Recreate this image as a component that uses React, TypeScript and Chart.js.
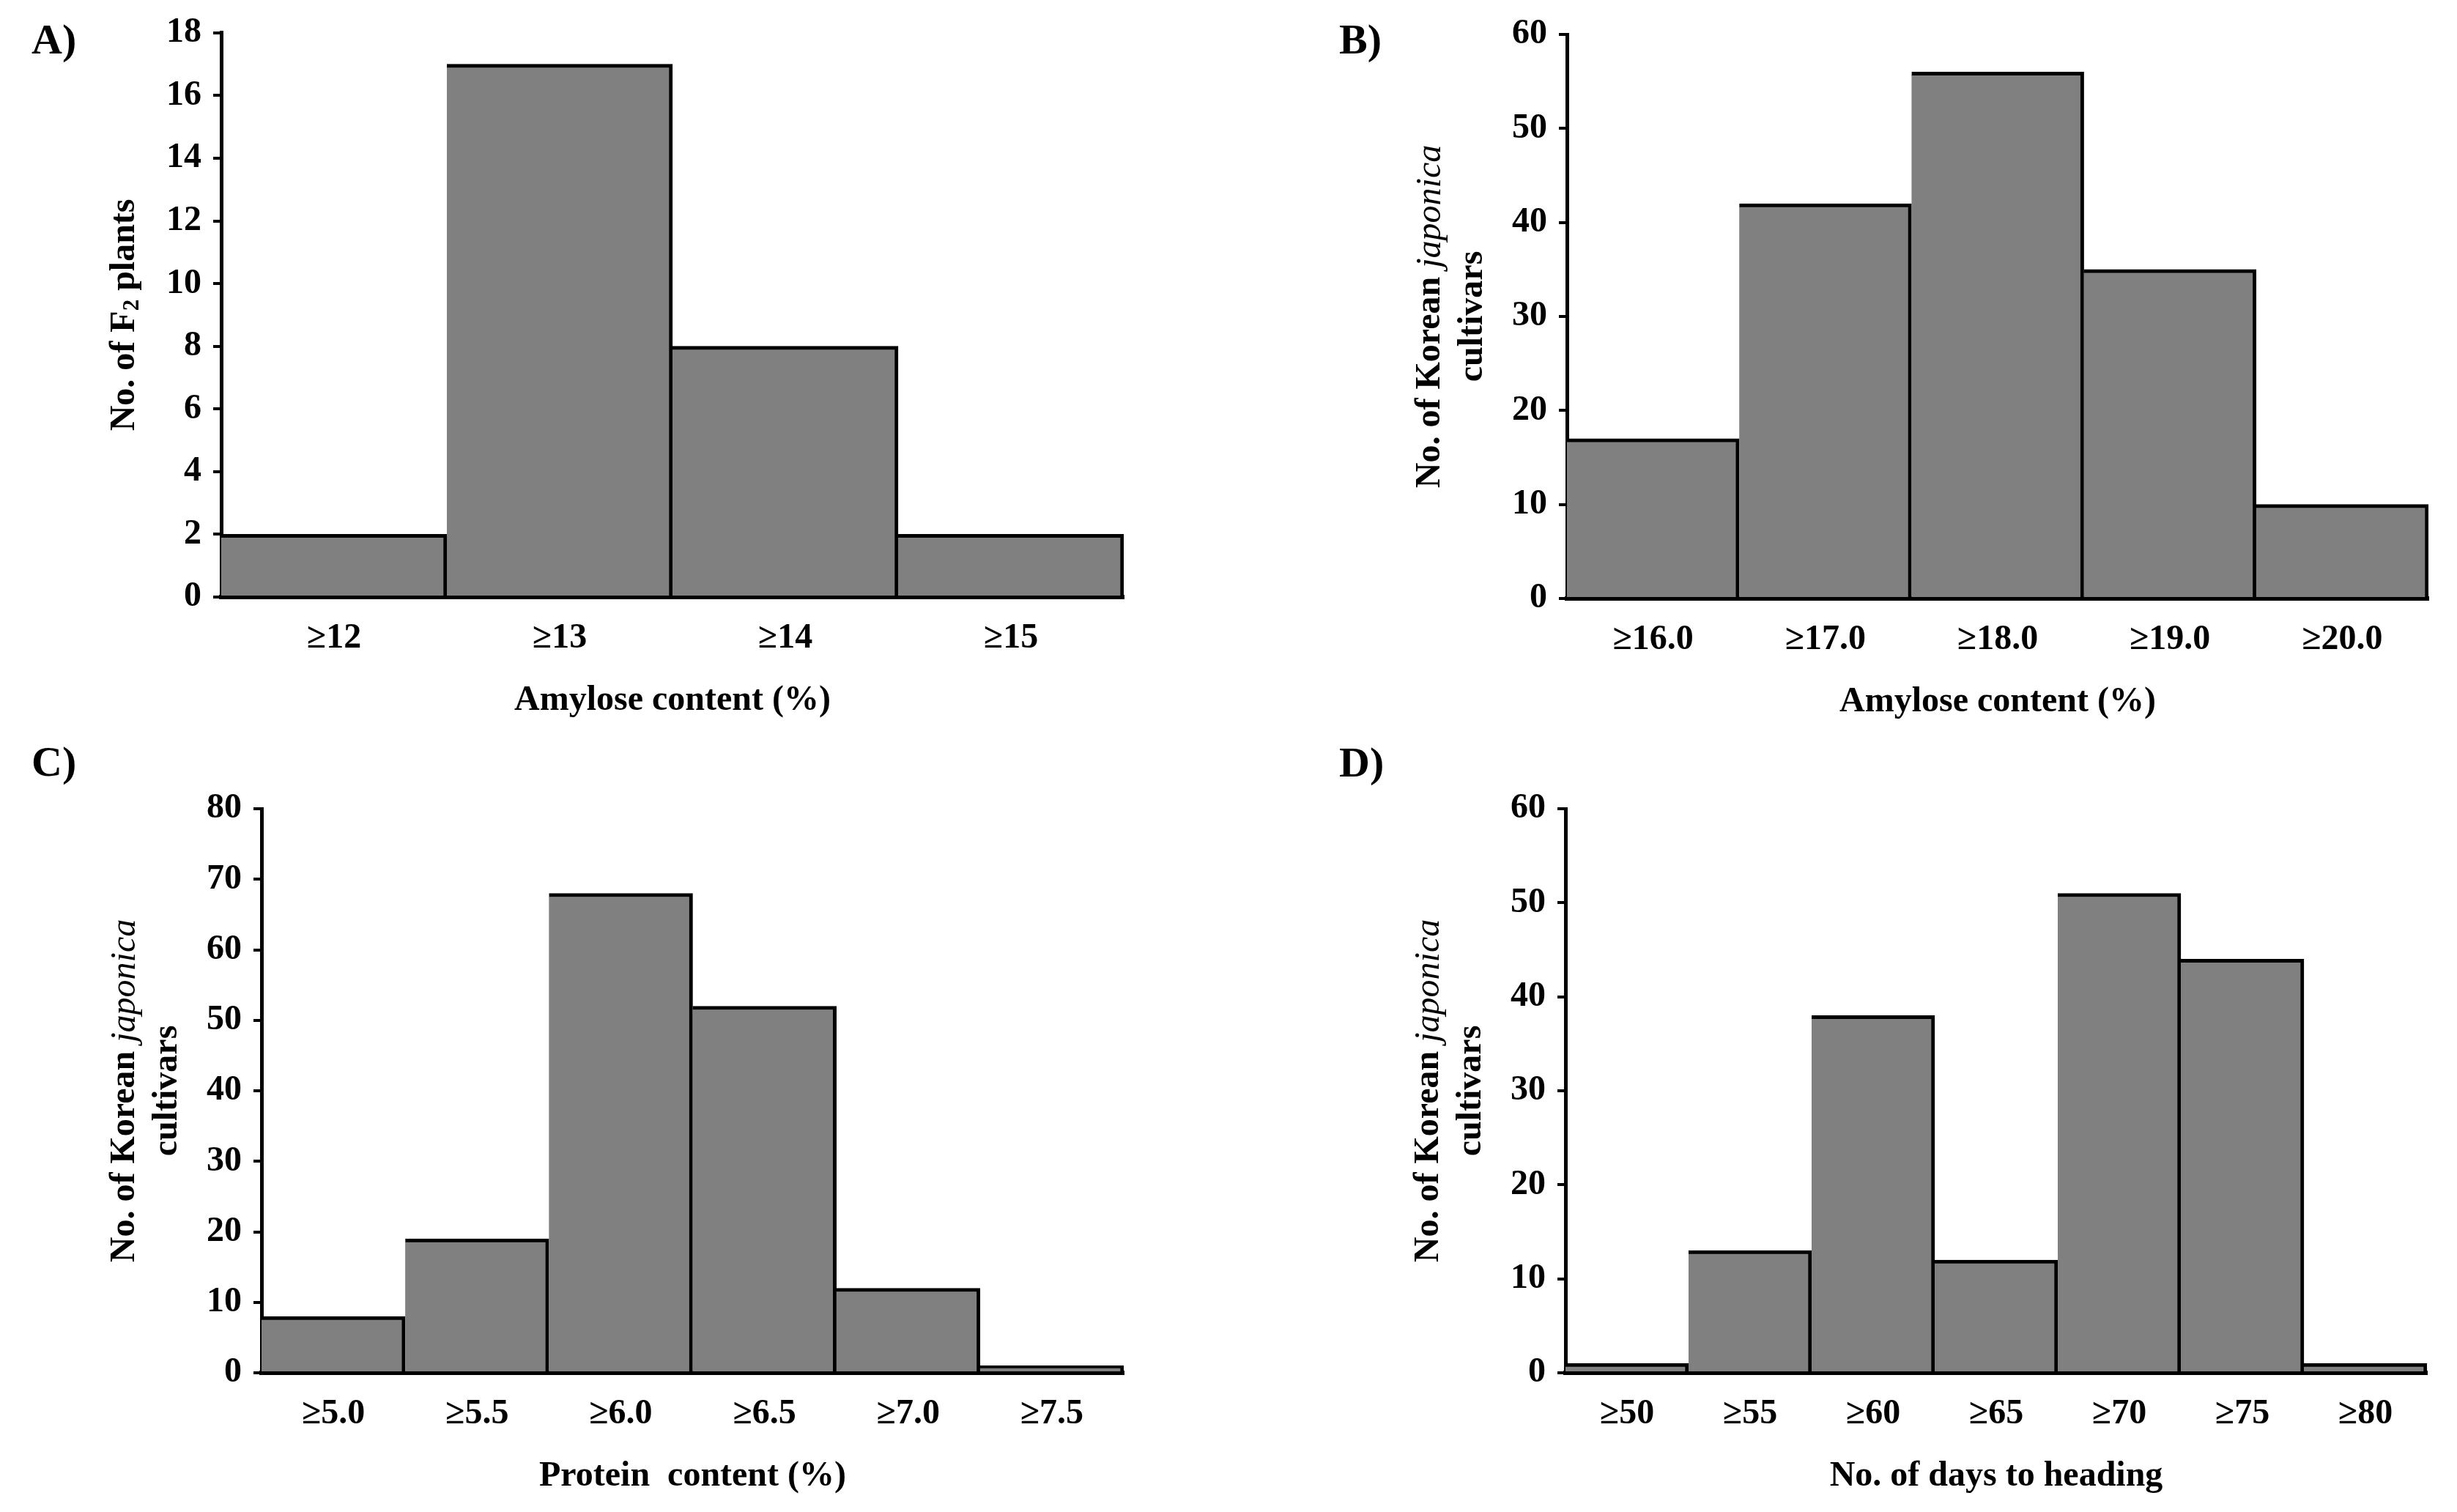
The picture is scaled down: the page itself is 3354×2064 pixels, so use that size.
import React, { useEffect, useRef } from 'react';
import { Chart, registerables } from 'chart.js';

Chart.register(...registerables);

const FAMILY = '"Liberation Serif", "Times New Roman", serif';
Chart.defaults.font.family = FAMILY;
Chart.defaults.color = '#000';

// ---- Data ----
const aCategories = ['≥12', '≥13', '≥14', '≥15'];
const aValues = [2, 17, 8, 2];
const aYMax = 18;
const aYStep = 2;

const bCategories = ['≥16.0', '≥17.0', '≥18.0', '≥19.0', '≥20.0'];
const bValues = [17, 42, 56, 35, 10];
const bYMax = 60;
const bYStep = 10;

const cCategories = ['≥5.0', '≥5.5', '≥6.0', '≥6.5', '≥7.0', '≥7.5'];
const cValues = [8, 19, 68, 52, 12, 1];
const cYMax = 80;
const cYStep = 10;

const dCategories = ['≥50', '≥55', '≥60', '≥65', '≥70', '≥75', '≥80'];
const dValues = [1, 13, 38, 12, 51, 44, 1];
const dYMax = 60;
const dYStep = 10;

type Seg = { text: string; italic?: boolean; sub?: boolean };

const yTitleF2: Seg[][] = [[{ text: 'No. of F' }, { text: '2', sub: true }, { text: ' plants' }]];
const yTitleKorean: Seg[][] = [
  [{ text: 'No. of Korean ' }, { text: 'japonica', italic: true }],
  [{ text: 'cultivars' }],
];

const TITLE_SIZE = 48;
const TICK_SIZE = 48;

const panelTextPlugin = {
  id: 'panelText',
  afterDraw(chart: any, _args: any, opts: any) {
    const { ctx, chartArea } = chart;
    ctx.save();
    ctx.fillStyle = '#000';
    // panel label
    ctx.font = `bold 58px ${FAMILY}`;
    ctx.textAlign = 'left';
    ctx.textBaseline = 'middle';
    ctx.fillText(opts.label, opts.labelX, opts.labelY);
    // y title
    const cy = (chartArea.top + chartArea.bottom) / 2;
    const lines: Seg[][] = opts.lines;
    lines.forEach((line, i) => {
      const fontOf = (s: Seg) =>
        s.italic
          ? `italic ${TITLE_SIZE}px ${FAMILY}`
          : s.sub
          ? `bold ${Math.round(TITLE_SIZE * 0.65)}px ${FAMILY}`
          : `bold ${TITLE_SIZE}px ${FAMILY}`;
      let total = 0;
      const widths = line.map((s) => {
        ctx.font = fontOf(s);
        const w = ctx.measureText(s.text).width;
        total += w;
        return w;
      });
      ctx.save();
      ctx.translate(chartArea.left + opts.offsets[i], cy);
      ctx.rotate(-Math.PI / 2);
      ctx.textAlign = 'left';
      ctx.textBaseline = 'middle';
      let x = -total / 2;
      line.forEach((s, j) => {
        ctx.font = fontOf(s);
        ctx.fillText(s.text, x, s.sub ? 10 : 0);
        x += widths[j];
      });
      ctx.restore();
    });
    ctx.restore();
  },
};

type PanelProps = {
  left: number;
  top: number;
  width: number;
  height: number;
  padding: { left: number; right: number; top: number; bottom: number };
  categories: string[];
  values: number[];
  yMax: number;
  yStep: number;
  xTitle: string;
  yLines: Seg[][];
  yOffsets: number[];
  label: string;
  labelX: number;
  labelY: number;
};

function Panel(p: PanelProps) {
  const ref = useRef<HTMLCanvasElement | null>(null);
  useEffect(() => {
    if (!ref.current) return;
    const chart = new Chart(ref.current, {
      type: 'bar',
      data: {
        labels: p.categories,
        datasets: [
          {
            data: p.values,
            backgroundColor: '#808080',
            borderColor: '#000000',
            borderWidth: { top: 5, right: 5, bottom: 0, left: 0 },
            borderSkipped: false,
            barPercentage: 1,
            categoryPercentage: 1,
          },
        ],
      },
      options: {
        responsive: false,
        animation: false,
        devicePixelRatio: 1,
        events: [],
        layout: { padding: p.padding },
        plugins: {
          legend: { display: false },
          tooltip: { enabled: false },
          // @ts-ignore
          panelText: { label: p.label, labelX: p.labelX, labelY: p.labelY, lines: p.yLines, offsets: p.yOffsets },
        },
        scales: {
          x: {
            z: 1,
            grid: { display: false, drawTicks: false },
            border: { display: true, color: '#000', width: 6 },
            ticks: {
              color: '#000',
              font: { size: TICK_SIZE, weight: 'bold', family: FAMILY },
              padding: 28,
              maxRotation: 0,
              autoSkip: false,
            },
            title: {
              display: true,
              text: p.xTitle,
              color: '#000',
              font: { size: TITLE_SIZE, weight: 'bold', family: FAMILY },
              padding: { top: 0, bottom: 10 },
            },
            afterFit: (s: any) => {
              s.height = 180;
            },
          },
          y: {
            z: 1,
            min: 0,
            max: p.yMax,
            ticks: {
              stepSize: p.yStep,
              color: '#000',
              font: { size: TICK_SIZE, weight: 'bold', family: FAMILY },
              padding: 16,
            },
            grid: {
              display: true,
              drawOnChartArea: false,
              drawTicks: true,
              tickLength: 11,
              color: '#000',
              lineWidth: 4,
            },
            border: { display: true, color: '#000', width: 5 },
            afterFit: (s: any) => {
              s.width = 150;
            },
          },
        },
      },
      plugins: [panelTextPlugin],
    } as any);
    return () => chart.destroy();
  }, []);
  return (
    <canvas
      ref={ref}
      width={p.width}
      height={p.height}
      style={{ position: 'absolute', left: p.left, top: p.top, width: p.width, height: p.height, display: 'block' }}
    />
  );
}

export default function App() {
  return (
    <div>
      <Panel
        left={0}
        top={0}
        width={1677}
        height={1000}
        padding={{ left: 152, right: 143, top: 43, bottom: 5 }}
        categories={aCategories}
        values={aValues}
        yMax={aYMax}
        yStep={aYStep}
        xTitle="Amylose content (%)"
        yLines={yTitleF2}
        yOffsets={[-131]}
        label="A)"
        labelX={43}
        labelY={58}
      />
      <Panel
        left={1677}
        top={0}
        width={1677}
        height={1000}
        padding={{ left: 312, right: 39, top: 47, bottom: 3 }}
        categories={bCategories}
        values={bValues}
        yMax={bYMax}
        yStep={bYStep}
        xTitle="Amylose content (%)"
        yLines={yTitleKorean}
        yOffsets={[-186, -128]}
        label="B)"
        labelX={151}
        labelY={58}
      />
      <Panel
        left={0}
        top={1000}
        width={1677}
        height={1064}
        padding={{ left: 207, right: 143, top: 104, bottom: 10 }}
        categories={cCategories}
        values={cValues}
        yMax={cYMax}
        yStep={cYStep}
        xTitle="Protein  content (%)"
        yLines={yTitleKorean}
        yOffsets={[-186, -128]}
        label="C)"
        labelX={43}
        labelY={44}
      />
      <Panel
        left={1677}
        top={1000}
        width={1677}
        height={1064}
        padding={{ left: 310, right: 41, top: 104, bottom: 10 }}
        categories={dCategories}
        values={dValues}
        yMax={dYMax}
        yStep={dYStep}
        xTitle="No. of days to heading"
        yLines={yTitleKorean}
        yOffsets={[-186, -128]}
        label="D)"
        labelX={151}
        labelY={45}
      />
    </div>
  );
}
